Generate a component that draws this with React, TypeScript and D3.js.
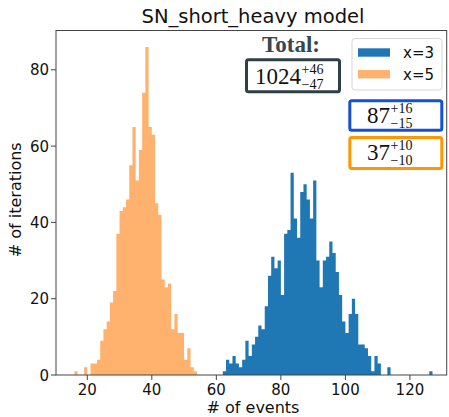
import React from "react";
import * as d3 from "d3";

// ---- data ----
const orangeStart = 16; // x=5
const orangeCounts = [1,0,0,2,0,3,3,4,9,12,14,19,22,37,43,44,46,55,65,51,59,74,86,65,63,45,42,25,23,24,12,16,11,11,4,7,2,1];
const blueStart = 62; // x=3
const blueCounts = [
  1,4,3,5,3,2,4,9,5,8,
  10,13,12,18,26,31,28,30,21,37,
  38,53,41,36,48,50,46,41,51,30,
  23,30,31,35,32,27,21,14,11,16,
  20,16,8,8,7,5,1,5,3,0,
  0,2,0,0,0,0,0,0,0,0,
  0,0,0,0,1,
];
const xTicks = [20, 40, 60, 80, 100, 120];
const yTicks = [0, 20, 40, 60, 80];
const legendLabels = ["x=3", "x=5"];
const totalVal = { v: "1024", up: "+46", lo: "\u221247" };
const blueVal = { v: "87", up: "+16", lo: "\u221215" };
const orangeVal = { v: "37", up: "+10", lo: "\u221210" };

const W = 449, H = 417;
const L = 56, R = 446.7, T = 30.5, B = 375;
const BLUE = "#1f77b4";
const ORANGE = "#ffb26e";
const SANS = "'DejaVu Sans', sans-serif";
const SERIF = "'Liberation Serif', 'DejaVu Serif', serif";

export default function App() {
  const x = d3.scaleLinear().domain([10.3, 131.4]).range([L, R]);
  const y = d3.scaleLinear().domain([0, 90.3]).range([B, T]);

  // histogram drawn as one filled step path per series (no seams between bars)
  const histPath = (start: number, counts: number[]) => {
    const pts: [number, number][] = counts.map((c, i) => [start + i, c]);
    pts.push([start + counts.length, 0]);
    const area = d3
      .area<[number, number]>()
      .x((d) => x(d[0]))
      .y0(y(0))
      .y1((d) => y(d[1]))
      .curve(d3.curveStepAfter);
    return area(pts) || "";
  };

  const valueBox = (
    bx: number, by: number, bw: number, bh: number, stroke: string,
    val: { v: string; up: string; lo: string }, tx: number, base: number, mainW: number
  ) => (
    <g>
      <rect x={bx} y={by} width={bw} height={bh} rx={2} fill="white" stroke={stroke} strokeWidth={3} />
      <text x={tx} y={base} fontFamily={SERIF} fontSize={23} fill="#111">{val.v}</text>
      <text x={tx + mainW + 0.5} y={base - 10} fontFamily={SERIF} fontSize={14} fill="#111">{val.up}</text>
      <text x={tx + mainW + 0.5} y={base + 5} fontFamily={SERIF} fontSize={14} fill="#111">{val.lo}</text>
    </g>
  );

  return (
    <svg width={W} height={H} style={{ position: "absolute", left: 0, top: 0, background: "white" }}>
      <rect x={0} y={0} width={W} height={H} fill="white" />
      {/* title */}
      <text x={253} y={23} textAnchor="middle" fontFamily={SANS} fontSize={19.5} fill="#111">
        SN_short_heavy model
      </text>

      {/* histograms */}
      <path d={histPath(blueStart, blueCounts)} fill={BLUE} />
      <path d={histPath(orangeStart, orangeCounts)} fill={ORANGE} />

      {/* frame */}
      <rect x={L} y={T} width={R - L} height={B - T} fill="none" stroke="#444" strokeWidth={1} />

      {/* x axis ticks */}
      {xTicks.map((t) => (
        <g key={t}>
          <line x1={x(t)} x2={x(t)} y1={B} y2={B + 5} stroke="#444" />
          <text x={x(t)} y={395} textAnchor="middle" fontFamily={SANS} fontSize={15} fill="#111">{t}</text>
        </g>
      ))}
      {/* y axis ticks */}
      {yTicks.map((t) => (
        <g key={t}>
          <line x1={L - 5} x2={L} y1={y(t)} y2={y(t)} stroke="#444" />
          <text x={L - 7} y={y(t) + 5.5} textAnchor="end" fontFamily={SANS} fontSize={15} fill="#111">{t}</text>
        </g>
      ))}

      {/* axis labels */}
      <text x={253} y={413} textAnchor="middle" fontFamily={SANS} fontSize={16} fill="#111"># of events</text>
      <text transform={`translate(21, ${(T + B) / 2 - 3}) rotate(-90)`} textAnchor="middle" fontFamily={SANS} fontSize={16} fill="#111">
        # of iterations
      </text>

      {/* legend */}
      <rect x={352} y={38.5} width={90} height={51.5} rx={3} fill="white" fillOpacity={0.8} stroke="#d6d6d6" />
      <rect x={358} y={48.3} width={32} height={8.4} fill={BLUE} />
      <text x={403} y={58} fontFamily={SANS} fontSize={15} fill="#111">{legendLabels[0]}</text>
      <rect x={358} y={70} width={32} height={8.4} fill={ORANGE} />
      <text x={403} y={80} fontFamily={SANS} fontSize={15} fill="#111">{legendLabels[1]}</text>

      {/* Total annotation */}
      <text x={291} y={52} textAnchor="middle" fontFamily={SERIF} fontWeight="bold" fontSize={23} fill="#37474f">Total:</text>
      {valueBox(246.5, 59.8, 93, 32, "#2e3f48", totalVal, 255, 84, 46)}
      {valueBox(349.8, 100.8, 92, 29.4, "#1450d2", blueVal, 367, 123, 23)}
      {valueBox(349.8, 137.5, 92, 31, "#ff9800", orangeVal, 367, 159.5, 23)}
    </svg>
  );
}
